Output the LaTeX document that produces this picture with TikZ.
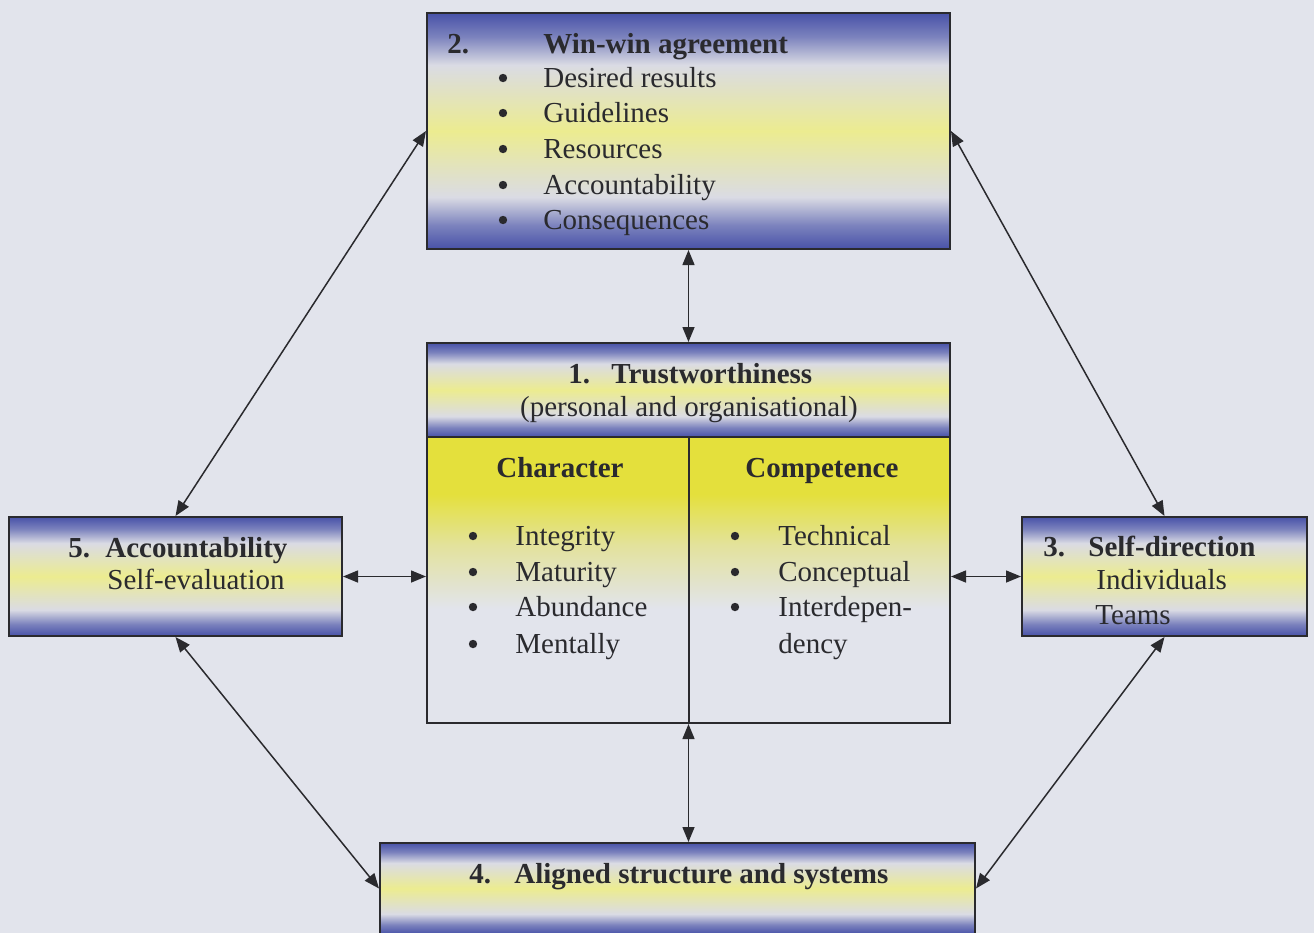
\documentclass[tikz,border=0pt]{standalone}
\usepackage{fontspec}
\setmainfont{Liberation Serif}
\usetikzlibrary{arrows.meta}

\definecolor{bg}{HTML}{E2E4EC}
\definecolor{bandblue}{HTML}{4852A8}
\definecolor{bandlight}{HTML}{DADBE4}
\definecolor{bandyellow}{HTML}{ECEC90}
\definecolor{bodyyellow}{HTML}{E4E03C}
\definecolor{ink}{HTML}{2A2A2E}

% blue - yellow - blue band used by every title box
\pgfdeclareverticalshading{band}{100bp}{color(0bp)=(bandblue); color(25bp)=(bandblue);
  color(30bp)=(bandblue!65!bandlight); color(36bp)=(bandlight); color(50bp)=(bandyellow);
  color(64bp)=(bandlight); color(70bp)=(bandblue!65!bandlight); color(75bp)=(bandblue); color(100bp)=(bandblue)}
% yellow fading downwards into the page colour
\pgfdeclareverticalshading{fade}{100bp}{color(0bp)=(bg); color(25bp)=(bg); color(45bp)=(bg);
  color(56bp)=(bodyyellow!45!bg); color(65bp)=(bodyyellow); color(75bp)=(bodyyellow); color(100bp)=(bodyyellow)}

\tikzset{
  box/.style={rectangle, draw=ink, line width=1pt, shade, shading=band, inner sep=0pt},
  txt/.style={anchor=base west, inner sep=0pt, text=ink, font=\fontsize{14.5}{17}\selectfont},
  bold/.style={txt, font=\fontsize{14.5}{17}\selectfont\bfseries},
  dot/.style={circle, fill=ink, minimum size=4.2pt, inner sep=0pt},
  link/.style={draw=ink, line width=0.75pt,
    {Triangle[length=7.5pt,width=6pt]}-{Triangle[length=7.5pt,width=6pt]}}
}

\begin{document}
\begin{tikzpicture}[x=0.5pt,y=-0.5pt]
\path[use as bounding box, fill=bg] (0,0) rectangle (1314,933);

% boxes
\node[box, minimum width=261.5pt, minimum height=118pt] (win) at (688.5,131) {};
\node[rectangle, draw=ink, line width=1pt, shade, shading=fade, inner sep=0pt,
      minimum width=261.5pt, minimum height=143pt] (body) at (688.5,580) {};
\node[box, minimum width=261.5pt, minimum height=47pt] (head) at (688.5,390) {};
\node[box, minimum width=166.5pt, minimum height=59.5pt] (acc) at (175.5,576.5) {};
\node[box, minimum width=142.5pt, minimum height=59.5pt] (self) at (1164.5,576.5) {};
\node[box, minimum width=297.5pt, minimum height=45.5pt] (align) at (677.5,888.5) {};
\draw[draw=ink, line width=1pt] (head.south) -- (body.south);

% box 2
\node[bold] (w0) at (447,53) {2.};
\node[bold] (w1) at (543,53) {Win-win agreement};
\foreach \y/\t [count=\i] in {87/Desired results,122/Guidelines,158/Resources,194/Accountability,229/Consequences}{
  \node[dot] (wb\i) at (503,\y-9) {};
  \node[txt] (wi\i) at (543,\y) {\t};
}

% box 1
\node[bold] (h0) at (568,383) {1.};
\node[bold] (h1) at (611,383) {Trustworthiness};
\node[txt, anchor=base] (h2) at (689,416) {(personal and organisational)};
\node[bold] (ch) at (496,477) {Character};
\node[bold] (co) at (745,477) {Competence};
\foreach \y/\t [count=\i] in {545/Integrity,581/Maturity,616/Abundance,653/Mentally}{
  \node[dot] (cb\i) at (473,\y-9) {};
  \node[txt] (ci\i) at (515,\y) {\t};
}
\foreach \y/\t [count=\i] in {545/Technical,581/Conceptual,616/Interdepen-}{
  \node[dot] (kb\i) at (735,\y-9) {};
  \node[txt] (ki\i) at (778,\y) {\t};
}
\node[txt] (ki4) at (778,653) {dency};

% box 5
\node[bold] (a0) at (68,557) {5.};
\node[bold] (a1) at (105,557) {Accountability};
\node[txt] (a2) at (107,589) {Self-evaluation};

% box 3
\node[bold] (s0) at (1043,556) {3.};
\node[bold] (s1) at (1088,556) {Self-direction};
\node[txt] (s2) at (1096,589) {Individuals};
\node[txt] (s3) at (1095,624) {Teams};

% box 4
\node[bold] (l0) at (469,883) {4.};
\node[bold] (l1) at (514,883) {Aligned structure and systems};

% connectors
\draw[link] (win.south) -- (head.north);
\draw[link] (body.south) -- (body.south |- align.north);
\draw[link] (acc.east) -- (acc.east -| body.west);
\draw[link] (body.east |- self.west) -- (self.west);
\draw[link] (win.west) -- (acc.north);
\draw[link] (win.east) -- (self.north);
\draw[link] (acc.south) -- (align.west);
\draw[link] (self.south) -- (align.east);
\end{tikzpicture}
\end{document}
